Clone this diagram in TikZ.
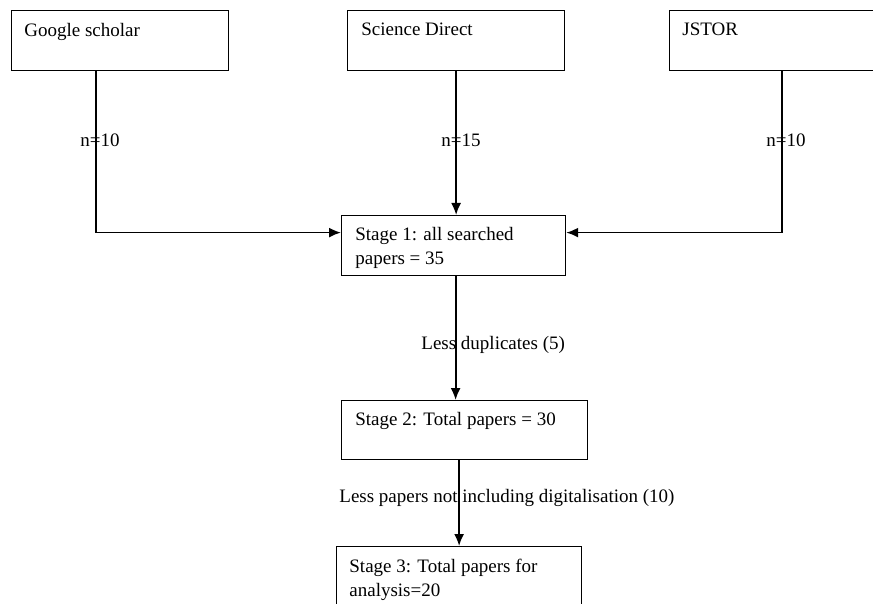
\documentclass[tikz,border=0pt]{standalone}
\usepackage{fontspec}
\setmainfont{Liberation Serif}
\usetikzlibrary{arrows.meta}

\begin{document}
\begin{tikzpicture}[x=0.5pt, y=-0.5pt, >={Latex[length=6pt,width=5pt]},
        frame/.style={draw, line width=0.6pt, anchor=north west, inner sep=0pt},
        txt/.style={anchor=north west, inner sep=0pt, align=left},
        lbl/.style={anchor=base west, inner sep=0pt},
        link/.style={->, line width=0.9pt},
        font=\fontsize{9.5}{11.8}\selectfont]
        % --- PAGE ---
        \clip (0,0) rectangle (873,604);

        % --- SOURCES ---
        \node[frame, minimum width=108.5pt, minimum height=30pt] (google)  at (11,10)  {};
        \node[frame, minimum width=108.5pt, minimum height=30pt] (science) at (347,10) {};
        \node[frame, minimum width=108.5pt, minimum height=30pt] (jstor)   at (669,10) {};
        \node[txt] (googletxt)  at ([shift={(13,13)}]google.north west)  {Google scholar};
        \node[txt] (sciencetxt) at ([shift={(14,13)}]science.north west) {Science Direct};
        \node[txt] (jstortxt)   at ([shift={(13,13)}]jstor.north west)   {JSTOR};

        % --- STAGES ---
        \node[frame, minimum width=112pt, minimum height=30pt]   (stage1) at (341,215) {};
        \node[frame, minimum width=123pt, minimum height=29.5pt] (stage2) at (341,400) {};
        \node[frame, minimum width=122.5pt, minimum height=35pt] (stage3) at (336,546) {};
        \node[txt] (stage1txt) at ([shift={(14,12)}]stage1.north west) {Stage 1: all searched\\papers = 35};
        \node[txt] (stage2txt) at ([shift={(14,12)}]stage2.north west) {Stage 2: Total papers = 30};
        \node[txt] (stage3txt) at ([shift={(13,13)}]stage3.north west) {Stage 3: Total papers for\\analysis=20};

        % --- CONNECTORS ---
        \draw[link] ([shift={(-24.5,0)}]google.south) |- ([shift={(0,-13)}]stage1.west);
        \draw[link] (science.south) -- (science.south |- stage1.north);
        \draw[link] ([shift={(3.5,0)}]jstor.south) |- ([shift={(0,-13)}]stage1.east);
        \draw[link] ([shift={(2,0)}]stage1.south) -- ([shift={(2,0)}]stage1.south |- stage2.north);
        \draw[link] (stage3.north |- stage2.south) -- (stage3.north);

        % --- LABELS ---
        \node[lbl] (ngoogle)  at (80,147)  {n=10};
        \node[lbl] (nscience) at (441,147) {n=15};
        \node[lbl] (njstor)   at (766,147) {n=10};
        \node[lbl] (dup)      at (421,350) {Less duplicates (5)};
        \node[lbl] (excl)     at (339,502) {Less papers not including digitalisation (10)};
\end{tikzpicture}
\end{document}
